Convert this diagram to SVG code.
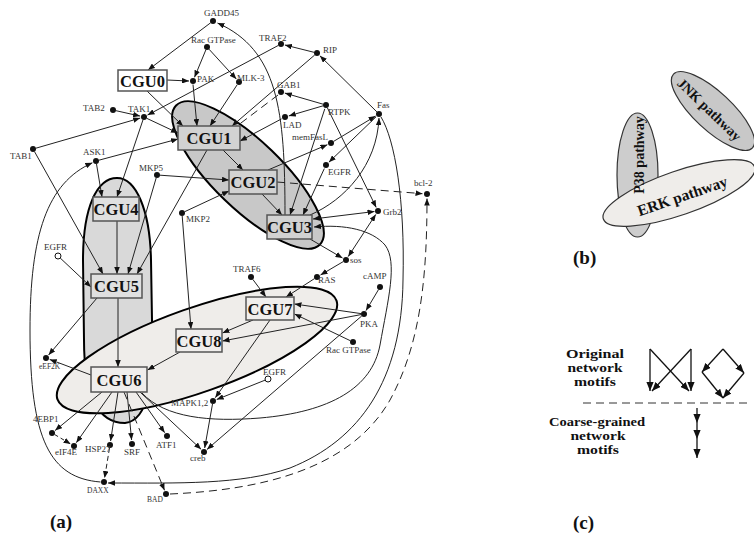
<svg xmlns="http://www.w3.org/2000/svg" width="754" height="536" viewBox="0 0 754 536">
<defs>
<marker id="ah" viewBox="0 0 10 8" refX="10" refY="4" markerWidth="7" markerHeight="5.6" orient="auto-start-reverse" markerUnits="userSpaceOnUse"><path d="M0,0 L10,4 L0,8 z" fill="#111"/></marker>
<marker id="ah2" viewBox="0 0 10 8" refX="10" refY="4" markerWidth="9" markerHeight="7.2" orient="auto" markerUnits="userSpaceOnUse"><path d="M0,0 L10,4 L0,8 z" fill="#111"/></marker>
</defs>
<style>
.reg{stroke:#000;stroke-width:2}
.jnk{fill:#c8c8c8}
.p38{fill:#d9d9d9}
.erk{fill:#efedea}
.bx{stroke:#555;stroke-width:1.5}
.bt{font-family:'Liberation Serif',serif;font-weight:bold;font-size:16.5px;text-anchor:middle;fill:#111}
.dot{fill:#111}
.open{fill:#fff;stroke:#111;stroke-width:1}
.lb{font-family:'Liberation Serif',serif;font-size:9px;fill:#333}
.sm{font-size:7.5px}
.cn path{fill:none;stroke:#222;stroke-width:1}
.ar{marker-end:url(#ah)}
.dh{stroke-dasharray:6 4}
.pl{font-family:'Liberation Serif',serif;font-weight:bold;font-size:19px;fill:#111}
.pb{stroke:#333;stroke-width:1.2}
.pt{font-family:'Liberation Serif',serif;font-weight:bold;font-size:14px;fill:#111;text-anchor:middle}
.mt{font-family:'Liberation Serif',serif;font-weight:bold;font-size:12.5px;fill:#111;text-anchor:middle}
.mo{fill:none;stroke:#111;stroke-width:1.3}
</style>
<rect width="754" height="536" fill="#fff"/>

<g id="regions">
<ellipse class="reg jnk" cx="248" cy="175" rx="100" ry="34" transform="rotate(44 248 175)"/>
<path class="reg p38" d="M117,178 C136,178 150,210 151,260 L152,320 C152,380 150,420 125,423 C100,423 84,400 84,340 L83,260 C83,207 97,178 117,178 Z"/>
<ellipse class="reg erk" cx="197" cy="350" rx="148" ry="42" transform="rotate(-19.5 197 350)"/>
</g>

<g id="connectors" class="cn">
<path class="ar" d="M210.6,22.8 L148,70"/>
<path class="ar" d="M285,215 C285,110 278,50 217.5,23"/>
<path class="ar" d="M205.9,49.8 L194.5,77.3"/>
<path class="ar" d="M209,49.2 L236.3,79"/>
<path class="ar" d="M167,80 L189,81"/>
<path class="ar" d="M147,91 L183,126"/>
<path class="ar" d="M193,84.5 L197,126"/>
<path class="ar" d="M237,85 L210,126"/>
<path class="ar" d="M278.4,45.4 L147.5,115.1"/>
<path class="ar" d="M314,52.3 L284.9,45"/>
<path class="ar" d="M314.7,55 L232,126"/>
<path class="ar" d="M376.9,111.9 L319.9,55.8"/>
<path class="ar" d="M323.1,104.2 L284.8,93.1"/>
<path class="ar" d="M323.1,105.8 L288.8,115.9"/>
<path d="M278,95 L237,126" style="stroke-dasharray:8 5"/>
<path class="ar" d="M281.5,118.9 L240,141"/>
<path class="ar" d="M324.8,108.8 L290,215"/>
<path class="ar" d="M327.3,107.7 L376.2,207.4"/>
<path class="ar" d="M333.6,141.4 L375.6,116.1"/>
<path class="ar" d="M268,170 L327.4,144.7"/>
<path class="ar" d="M376.1,116.8 L328.9,162.2"/>
<path class="ar" d="M324.3,168.6 L303,215"/>
<path class="ar" d="M310,215 C345,200 377,165 379,118"/>
<path class="ar" d="M381,117 C395,140 405,200 403,280 C402,380 360,440 290,468 C240,485 180,483 108,483"/>
<path class="ar" d="M170,494 C260,490 350,470 390,400 C420,345 427,280 427,198.5" style="stroke-dasharray:8 5"/>
<path class="ar" d="M277,182 L422.5,193.7" style="stroke-dasharray:8 5"/>
<path class="ar" d="M374.5,211.5 L313,219" style="marker-start:url(#ah)"/>
<path class="ar" d="M375.8,214.4 L348.2,256.6" style="marker-start:url(#ah)"/>
<path class="ar" d="M310,239 L342.5,258"/>
<path class="ar" d="M343.4,261.5 L320.5,275"/>
<path class="ar" d="M314.5,278.6 L286,297"/>
<path class="ar" d="M252.8,279.4 L266,297"/>
<path class="ar" d="M378.5,289.6 L366,310.6"/>
<path class="ar" d="M361,313.6 L294.5,304"/>
<path class="ar" d="M361,314.6 L222.5,341"/>
<path class="ar" d="M253,320 L222.5,333"/>
<path class="ar" d="M350.3,340.7 L294.5,314"/>
<path class="ar" d="M361.7,316 L207,449.4"/>
<path class="ar" d="M270,320 L215.3,397.7"/>
<path class="ar" d="M265.2,380.1 L216.7,399.5"/>
<path class="ar" d="M212.5,404 L204.7,448"/>
<path class="ar" d="M140,392 L201.1,449.3"/>
<path class="ar" d="M136,392 L164.7,432.7"/>
<path class="ar" d="M127,392 L131.6,440"/>
<path class="ar" d="M118,392 L110.6,441"/>
<path class="ar" d="M112,392 L76.3,442.7"/>
<path class="ar" d="M102,392 L55.1,430.5"/>
<path class="ar" d="M54.6,434.5 L70.6,444" style="stroke-dasharray:4 3"/>
<path class="ar" d="M109.5,448 L104.6,478" style="stroke-dasharray:5 3"/>
<path class="ar" d="M124,392 L164.5,490.3" style="stroke-dasharray:8 5"/>
<path class="ar" d="M91,375 L49.7,359.4"/>
<path class="ar" d="M97,298 L48.6,355"/>
<path class="ar" d="M118,298 L118,367"/>
<path class="ar" d="M180,352 L147.5,370"/>
<path class="ar" d="M117,221 L117,274"/>
<path class="ar" d="M60.2,258 L91,287"/>
<path class="ar" d="M34.5,151.6 L103,274"/>
<path class="ar" d="M96.5,164 L102,197"/>
<path class="ar" d="M143,119.8 L117,197"/>
<path class="ar" d="M160,175.2 L229,180"/>
<path class="ar" d="M156.2,177.9 L128,274"/>
<path class="ar" d="M207,150 L137,274"/>
<path class="ar" d="M184.7,211.7 L229,191"/>
<path class="ar" d="M182.2,216 L191,329"/>
<path class="ar" d="M223,150 L243,170"/>
<path class="ar" d="M262,194 L282,215"/>
<path class="ar" d="M116,110.7 L140.1,116.1"/>
<path class="ar" d="M35.9,148.2 L140.2,118.1"/>
<path class="ar" d="M146.7,118.3 L178,133"/>
<path class="ar" d="M98.9,160.2 L178,139"/>
<path class="ar" d="M100.5,482 C50,478 30,440 30,330 C30,235 47,183 92.4,162.8"/>
<path class="ar" d="M142,393 C165,418 210,422 260,418 C330,412 372,388 380,345 C388,300 398,262 385,245 C372,230 345,224 314,227"/>
</g>

<g id="CGU0"><rect class="bx" x="118" y="70" width="49" height="21" fill="#fff"/><text class="bt" x="142.5" y="86.5">CGU0</text></g>
<g id="CGU1"><rect class="bx" x="178" y="126" width="62" height="24" fill="#d2d2d2"/><text class="bt" x="209" y="144">CGU1</text></g>
<g id="CGU2"><rect class="bx" x="229" y="170" width="48" height="24" fill="#d2d2d2"/><text class="bt" x="253" y="188">CGU2</text></g>
<g id="CGU3"><rect class="bx" x="267" y="215" width="45" height="24" fill="#d2d2d2"/><text class="bt" x="289.5" y="233">CGU3</text></g>
<g id="CGU4"><rect class="bx" x="93" y="197" width="46" height="24" fill="#e0e0e0"/><text class="bt" x="116" y="215">CGU4</text></g>
<g id="CGU5"><rect class="bx" x="91" y="274" width="51" height="24" fill="#e0e0e0"/><text class="bt" x="116.5" y="292">CGU5</text></g>
<g id="CGU6"><rect class="bx" x="91" y="367" width="56" height="25" fill="#f0eeec"/><text class="bt" x="119" y="385.5">CGU6</text></g>
<g id="CGU7"><rect class="bx" x="246" y="297" width="48" height="23" fill="#f0eeec"/><text class="bt" x="270" y="314.5">CGU7</text></g>
<g id="CGU8"><rect class="bx" x="176" y="329" width="46" height="23" fill="#f0eeec"/><text class="bt" x="199" y="346.5">CGU8</text></g>

<g id="GADD45"><circle class="dot" cx="213" cy="21" r="3"/><text class="lb" x="204" y="16">GADD45</text></g>
<g id="RacGTPase_top"><circle class="dot" cx="207" cy="47" r="3"/><text class="lb" x="191" y="43">Rac GTPase</text></g>
<g id="PAK"><circle class="dot" cx="193" cy="81" r="3"/><text class="lb" x="197" y="82">PAK</text></g>
<g id="MLK-3"><circle class="dot" cx="239" cy="82" r="3"/><text class="lb" x="237" y="81">MLK-3</text></g>
<g id="TRAF2"><circle class="dot" cx="281" cy="44" r="3"/><text class="lb" x="259" y="41">TRAF2</text></g>
<g id="RIP"><circle class="dot" cx="317" cy="53" r="3"/><text class="lb" x="323" y="53">RIP</text></g>
<g id="GAB1"><circle class="dot" cx="281" cy="92" r="3"/><text class="lb" x="277" y="88">GAB1</text></g>
<g id="RTPK"><circle class="dot" cx="326" cy="105" r="3"/><text class="lb" x="328" y="115">RTPK</text></g>
<g id="LAD"><circle class="dot" cx="285" cy="117" r="3"/><text class="lb" x="283" y="128">LAD</text></g>
<g id="Fas"><circle class="dot" cx="379" cy="114" r="3"/><text class="lb" x="377" y="108">Fas</text></g>
<g id="memFasL"><circle class="dot" cx="331" cy="143" r="3"/><text class="lb" x="292" y="140">memFasL</text></g>
<g id="EGFR_top"><circle class="dot" cx="326" cy="165" r="3"/><text class="lb" x="328" y="175">EGFR</text></g>
<g id="TAB2"><circle class="dot" cx="113" cy="110" r="3"/><text class="lb" x="83" y="111">TAB2</text></g>
<g id="TAK1"><circle class="dot" cx="144" cy="117" r="3"/><text class="lb" x="128" y="111.5">TAK1</text></g>
<g id="TAB1"><circle class="dot" cx="33" cy="149" r="3"/><text class="lb" x="10" y="159">TAB1</text></g>
<g id="ASK1"><circle class="dot" cx="96" cy="161" r="3"/><text class="lb" x="83" y="155">ASK1</text></g>
<g id="MKP5"><circle class="dot" cx="157" cy="175" r="3"/><text class="lb" x="139" y="171">MKP5</text></g>
<g id="MKP2"><circle class="dot" cx="182" cy="213" r="3"/><text class="lb" x="186" y="222">MKP2</text></g>
<g id="EGFR_left"><circle class="open" cx="58" cy="256" r="3"/><text class="lb" x="44" y="250">EGFR</text></g>
<g id="TRAF6"><circle class="dot" cx="251" cy="277" r="3"/><text class="lb" x="233" y="272">TRAF6</text></g>
<g id="RAS"><circle class="dot" cx="317" cy="277" r="3"/><text class="lb" x="318" y="283">RAS</text></g>
<g id="sos"><circle class="dot" cx="346" cy="260" r="3"/><text class="lb" x="350" y="263">sos</text></g>
<g id="Grb2"><circle class="dot" cx="378" cy="211" r="3"/><text class="lb" x="383" y="215">Grb2</text></g>
<g id="bcl-2"><circle class="dot" cx="427" cy="194" r="3"/><text class="lb" x="414" y="186">bcl-2</text></g>
<g id="cAMP"><circle class="dot" cx="380" cy="287" r="3"/><text class="lb" x="363" y="279">cAMP</text></g>
<g id="PKA"><circle class="dot" cx="364" cy="314" r="3"/><text class="lb" x="360" y="327">PKA</text></g>
<g id="RacGTPase_bottom"><circle class="dot" cx="353" cy="342" r="3"/><text class="lb" x="326" y="353">Rac GTPase</text></g>
<g id="EGFR_bottom"><circle class="open" cx="268" cy="379" r="3"/><text class="lb" x="263" y="375">EGFR</text></g>
<g id="MAPK1,2"><circle class="dot" cx="213" cy="401" r="3"/><text class="lb" x="171" y="406">MAPK1,2</text></g>
<g id="creb"><circle class="dot" cx="204" cy="452" r="3"/><text class="lb" x="190" y="461">creb</text></g>
<g id="eEF2K"><circle class="dot" cx="46" cy="358" r="3"/><text class="lb sm" x="39" y="369">eEF2K</text></g>
<g id="4EBP1"><circle class="dot" cx="52" cy="433" r="3"/><text class="lb" x="33" y="422">4EBP1</text></g>
<g id="eIF4E"><circle class="dot" cx="74" cy="446" r="3"/><text class="lb" x="55" y="455">eIF4E</text></g>
<g id="HSP27"><circle class="dot" cx="110" cy="445" r="3"/><text class="lb" x="85" y="452">HSP27</text></g>
<g id="SRF"><circle class="dot" cx="132" cy="444" r="3"/><text class="lb" x="124" y="455">SRF</text></g>
<g id="ATF1"><circle class="dot" cx="167" cy="436" r="3"/><text class="lb" x="156" y="448">ATF1</text></g>
<g id="DAXX"><circle class="dot" cx="104" cy="482" r="3"/><text class="lb sm" x="87" y="493">DAXX</text></g>
<g id="BAD"><circle class="dot" cx="166" cy="494" r="3"/><text class="lb sm" x="147" y="502">BAD</text></g>

<text class="pl" x="50" y="528">(a)</text>

<g id="panel-b">
<ellipse class="pb" cx="637.5" cy="175" rx="20.5" ry="62" fill="#cdcdcd"/>
<ellipse class="pb" cx="713" cy="111" rx="54" ry="19" fill="#c8c8c8" transform="rotate(43 713 111)"/>
<ellipse class="pb" cx="679" cy="193" rx="80" ry="22" fill="#efedea" transform="rotate(-19 679 193)"/>
<text class="pt" x="644" y="155" transform="rotate(-90 644 155)">P38 pathway</text>
<text class="pt" x="706" y="113" transform="rotate(44 706 113)">JNK pathway</text>
<text class="pt" x="684" y="201" transform="rotate(-19 684 201)" style="font-size:15.5px">ERK pathway</text>
<text class="pl" x="573" y="264">(b)</text>
</g>

<g id="panel-c">
<text class="mt" x="595" y="358" textLength="58" lengthAdjust="spacingAndGlyphs">Original</text>
<text class="mt" x="595" y="372" textLength="55" lengthAdjust="spacingAndGlyphs">network</text>
<text class="mt" x="595" y="386" textLength="42" lengthAdjust="spacingAndGlyphs">motifs</text>
<path d="M583,403 L747,403" stroke="#333" stroke-width="1" stroke-dasharray="8 5"/>
<text class="mt" x="597" y="426" textLength="96" lengthAdjust="spacingAndGlyphs">Coarse-grained</text>
<text class="mt" x="598" y="440" textLength="55" lengthAdjust="spacingAndGlyphs">network</text>
<text class="mt" x="598" y="454" textLength="42" lengthAdjust="spacingAndGlyphs">motifs</text>
<path class="mo" d="M650,349 L650,391" marker-end="url(#ah2)"/>
<path class="mo" d="M691,349 L691,391" marker-end="url(#ah2)"/>
<path class="mo" d="M650,349 L689,391" marker-end="url(#ah2)"/>
<path class="mo" d="M691,349 L652,391" marker-end="url(#ah2)"/>
<path class="mo" d="M723,349 L702,372" marker-end="url(#ah2)"/>
<path class="mo" d="M723,349 L744,373" marker-end="url(#ah2)"/>
<path class="mo" d="M702,372 L723,398" marker-end="url(#ah2)"/>
<path class="mo" d="M744,373 L723,398" marker-end="url(#ah2)"/>
<path class="mo" d="M697,408 L697,423" marker-end="url(#ah2)"/>
<path class="mo" d="M697,423 L697,439" marker-end="url(#ah2)"/>
<path class="mo" d="M697,439 L697,458" marker-end="url(#ah2)"/>
<text class="pl" x="573" y="529">(c)</text>
</g>
</svg>
